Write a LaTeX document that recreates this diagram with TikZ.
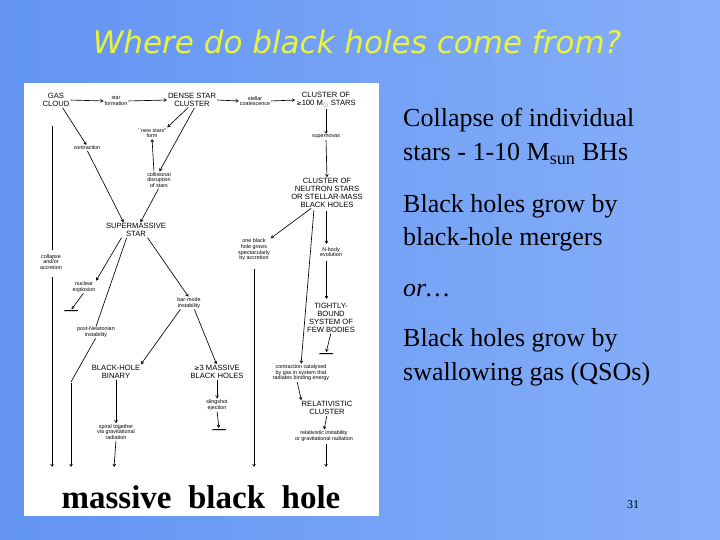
\documentclass[tikz,border=0pt]{standalone}
\usepackage{fontspec}
\setmainfont{Liberation Serif}
\newfontfamily\djvs{DejaVu Sans}
\newfontfamily\lsans{Liberation Sans}
\usetikzlibrary{arrows.meta}
\definecolor{bgl}{HTML}{6294F3}
\definecolor{bgr}{HTML}{86AFF9}
\definecolor{ttl}{HTML}{E8F43C}
\tikzset{x=1pt,y=-1pt,
 big/.style={font=\lsans\fontsize{7.6}{7.9}\selectfont,align=center,inner sep=0pt},
 sm/.style={font=\lsans\fontsize{5.4}{5.6}\selectfont,align=center,inner sep=0pt},
 ln/.style={line width=0.65pt,shorten >=1pt,shorten <=1pt,-{Straight Barb[length=2.4pt,width=2.8pt]}},
 pl/.style={line width=0.65pt,shorten <=1pt},
 rt/.style={font=\fontsize{26}{30}\selectfont,anchor=base west,inner sep=0pt}}
\begin{document}
\begin{tikzpicture}
\useasboundingbox (0,0) rectangle (720,540);
\shade[left color=bgl,right color=bgr] (0,0) rectangle (720,540);
\node[font=\djvs\itshape\fontsize{31}{31}\selectfont,text=ttl,inner sep=0pt] (title) at (357,42) {Where do black holes come from?};
\fill[white] (24,83) rectangle (379,516);
% nodes
\node[big] (gas) at (56,100) {GAS\\CLOUD};
\node[sm] (sf) at (116,101) {star\\formation};
\node[big] (dense) at (192,100) {DENSE STAR\\CLUSTER};
\node[sm] (sc) at (255,101) {stellar\\coalescence};
\node[big] (c100) at (326,100) {CLUSTER OF\\{\djvs\fontsize{6.5}{7}\selectfont ≥}100 M$_\odot$ STARS};
\node[sm] (newst) at (152,133) {``new stars''\\form};
\node[sm] (contr) at (87,148) {contraction};
\node[sm] (sn) at (326,137) {supernovas};
\node[sm] (coll) at (159,180) {collisional\\disruption\\of stars};
\node[big] (ns) at (327,193) {CLUSTER OF\\NEUTRON STARS\\OR STELLAR-MASS\\BLACK HOLES};
\node[big] (sms) at (136,230) {SUPERMASSIVE\\STAR};
\node[sm] (onebh) at (254,250) {one black\\hole grows\\spectacularly\\by accretion};
\node[sm] (nbody) at (331,252) {N-body\\evolution};
\node[sm] (colacc) at (51,262) {collapse\\and/or\\accretion};
\node[sm] (nuc) at (84,287) {nuclear\\explosion};
\node[sm] (bar) at (189,303) {bar-mode\\instability};
\node[big] (tight) at (331,318) {TIGHTLY-\\BOUND\\SYSTEM OF\\FEW BODIES};
\node[sm] (pn) at (96,332) {post-Newtonian\\instability};
\node[big] (bin) at (116,372) {BLACK-HOLE\\BINARY};
\node[big] (three) at (217,372) {{\djvs\fontsize{6.5}{7}\selectfont ≥}3 MASSIVE\\BLACK HOLES};
\node[sm] (cat) at (301,373) {contraction catalysed\\by gas in system that\\radiates binding energy};
\node[big] (rel) at (327,408) {RELATIVISTIC\\CLUSTER};
\node[sm] (sling) at (217,405) {slingshot\\ejection};
\node[sm] (spiral) at (116,432) {spiral together\\via gravitational\\radiation};
\node[sm] (relinst) at (324,436) {relativistic instability\\or gravitational radiation};
\node[font=\bfseries\fontsize{33}{33}\selectfont,inner sep=0pt] (mbh) at (201,497) {massive\ \ black\ \ hole};
% free ends
\coordinate (gtop) at (52,125); \coordinate (g1) at (52,250); \coordinate (g2) at (52,276); \coordinate (b52) at (52,468);
\coordinate (k71) at (71,382); \coordinate (b71) at (71,468);
\coordinate (b114) at (114,468);
\coordinate (t254) at (254,268); \coordinate (b254) at (254,468);
\coordinate (r1) at (326,443); \coordinate (b326) at (326,468);
\coordinate (vA) at (326.5,210); \coordinate (vB) at (326.5,245);
\coordinate (vC) at (326.5,260); \coordinate (vD) at (326.5,300);
\coordinate (nsl) at (314,209);
% hatches
\coordinate (h1) at (71,310); \coordinate (h2) at (326,353); \coordinate (h3) at (219,429);
\foreach \h in {h1,h2,h3}{\draw[pl] ([xshift=-7pt]\h) -- ([xshift=7pt]\h);
 \foreach \i in {-6,-4,...,6}{\draw[line width=0.35pt] ([xshift=\i pt]\h) -- ([xshift=\i pt-1pt,yshift=-1.5pt]\h);}}
% connectors
\draw[ln] (gas.east) -- (sf.west);
\draw[ln] (sf.east) -- (dense.west);
\draw[ln] (dense.east) -- (sc.west);
\draw[ln] (sc.east) -- (c100.west);
\draw[ln] (c100.south) -- (sn.north);
\draw[ln] (sn.south) -- (ns.north);
\draw[ln] (vA) -- (vB);
\draw[ln] (vC) -- (vD);
\draw[ln] (tight.south) -- (h2);
\draw[ln] ([xshift=-15pt]ns.south) -- (onebh.north east);
\draw[ln] (nsl) -- (cat.north);
\draw[ln] ([xshift=-4pt]cat.south) -- (rel.north west);
\draw[ln] (rel.south) -- (relinst.north);
\draw[ln] (r1) -- (b326);
\draw[ln] (t254) -- (b254);
\draw[pl] (gtop) -- (g1);
\draw[ln] (g2) -- (b52);
\draw[ln] ([xshift=6pt]gas.south) -- (contr.north);
\draw[ln] (contr.south) -- ([xshift=-12pt]sms.north);
\draw[ln] ([xshift=-3pt]dense.south) -- (newst.north east);
\draw[ln] ([xshift=3pt]dense.south) -- (coll.north);
\draw[ln] ([xshift=-5pt]coll.north) -- (newst.south);
\draw[ln] (coll.south) -- ([xshift=4pt]sms.north);
\draw[ln] ([xshift=-14pt]sms.south) -- (nuc.north east);
\draw[ln] (nuc.south) -- (h1);
\draw[pl] ([xshift=-9pt]sms.south) -- (pn.north);
\draw[pl] (pn.south) -- (k71);
\draw[ln] (k71) -- (b71);
\draw[ln] ([xshift=11pt]sms.south) -- (bar.north);
\draw[ln] ([xshift=-8pt]bar.south) -- (bin.north east);
\draw[ln] ([xshift=5pt]bar.south) -- (three.north);
\draw[ln] (bin.south) -- (spiral.north);
\draw[ln] (spiral.south) -- (b114);
\draw[ln] (three.south) -- (sling.north);
\draw[ln] (sling.south) -- (h3);
% right text
\node[rt] (t1) at (403,127) {Collapse of individual};
\node[rt] (t2) at (403,161) {stars - 1-10 M\textsubscript{sun} BHs};
\node[rt] (t3) at (403,212) {Black holes grow by};
\node[rt] (t4) at (403,245) {black-hole mergers};
\node[rt,font=\itshape\fontsize{26}{30}\selectfont] (t5) at (403,296) {or…};
\node[rt] (t6) at (403,346) {Black holes grow by};
\node[rt] (t7) at (403,380) {swallowing gas (QSOs)};
\node[font=\fontsize{12}{12}\selectfont,inner sep=0pt] (pg) at (633,505) {31};
\end{tikzpicture}
\end{document}
